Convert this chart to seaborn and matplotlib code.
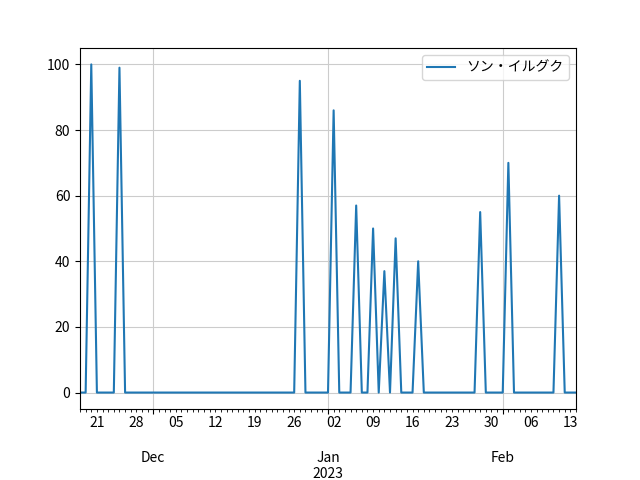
import pandas as pd
import matplotlib
matplotlib.use('Agg')
import matplotlib.pyplot as plt
import matplotlib.dates as mdates
from matplotlib.ticker import FuncFormatter
import seaborn as sns

plt.rcParams['font.family'] = ['Noto Sans CJK JP', 'DejaVu Sans']

# Daily values from 2022-11-18 to 2023-02-14 (one row per 7 days, starting Friday)
start_date = '2022-11-18'
end_date = '2023-02-14'
values = [
    0, 0, 100, 0, 0, 0, 0,      # Nov 18 - Nov 24
    99, 0, 0, 0, 0, 0, 0,       # Nov 25 - Dec 01
    0, 0, 0, 0, 0, 0, 0,        # Dec 02 - Dec 08
    0, 0, 0, 0, 0, 0, 0,        # Dec 09 - Dec 15
    0, 0, 0, 0, 0, 0, 0,        # Dec 16 - Dec 22
    0, 0, 0, 0, 95, 0, 0,       # Dec 23 - Dec 29
    0, 0, 0, 86, 0, 0, 0,       # Dec 30 - Jan 05
    57, 0, 0, 50, 0, 37, 0,     # Jan 06 - Jan 12
    47, 0, 0, 0, 40, 0, 0,      # Jan 13 - Jan 19
    0, 0, 0, 0, 0, 0, 0,        # Jan 20 - Jan 26
    0, 55, 0, 0, 0, 0, 70,      # Jan 27 - Feb 02
    0, 0, 0, 0, 0, 0, 0,        # Feb 03 - Feb 09
    0, 60, 0, 0, 0,             # Feb 10 - Feb 14
]
series_name = 'ソン・イルグク'

dates = pd.date_range(start_date, end_date, freq='D')
df = pd.DataFrame({'date': dates, 'value': values})

fig, ax = plt.subplots(figsize=(6.4, 4.8), dpi=100)
fig.subplots_adjust(left=0.125, right=0.9, bottom=0.148, top=0.9)

sns.lineplot(data=df, x='date', y='value', label=series_name, ax=ax, color='#1f77b4', linewidth=1.5)

ax.set_xlim(dates[0], dates[-1])


def month_fmt(x, pos):
    d = mdates.num2date(x)
    if d.month == 1:
        return '\n\n' + d.strftime('%b') + '\n' + d.strftime('%Y')
    return '\n\n' + d.strftime('%b')


def day_fmt(x, pos):
    d = mdates.num2date(x)
    if d.weekday() == 0:
        return d.strftime('%d')
    return ''


ax.xaxis.set_major_locator(mdates.MonthLocator())
ax.xaxis.set_major_formatter(FuncFormatter(month_fmt))
ax.xaxis.set_minor_locator(mdates.DayLocator())
ax.xaxis.set_minor_formatter(FuncFormatter(day_fmt))

ax.set_xlabel('')
ax.set_ylabel('')
ax.grid(True, color='#cccccc', linewidth=0.8)
ax.legend(loc='upper right')

plt.savefig('out.png', dpi=100)
